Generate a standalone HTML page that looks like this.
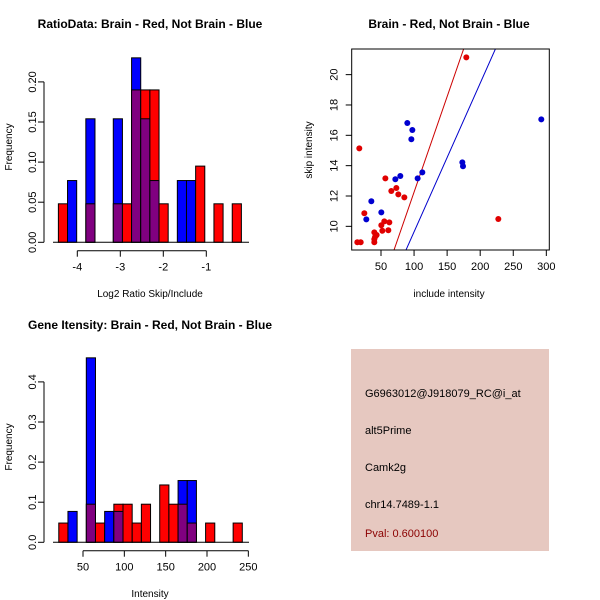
<!DOCTYPE html>
<html><head><meta charset="utf-8"><style>
body{margin:0;background:#fff;}
svg{display:block;font-family:"Liberation Sans",sans-serif;}
</style></head><body>
<svg id="c" width="600" height="600" xmlns="http://www.w3.org/2000/svg">
<rect x="351" y="349" width="198" height="202" fill="#e6c8c0"/>
<text x="365" y="397" font-size="11">G6963012@J918079_RC@i_at</text>
<text x="365" y="434" font-size="11">alt5Prime</text>
<text x="365" y="471" font-size="11">Camk2g</text>
<text x="365" y="508" font-size="11">chr14.7489-1.1</text>
<text x="365" y="537" font-size="11" fill="#8b0000">Pval: 0.600100</text>
</svg>
<script>
// Ratio histogram (20 bins)
const ratioRed  = [0.048,0,0,0.048,0,0,0.048,0.048,0.19,0.19,0.19,0.048,0,0,0,0.095,0,0.048,0,0.048];
const ratioBlue = [0,0.077,0,0.154,0,0,0.154,0,0.23,0.154,0.077,0,0,0.077,0.077,0,0,0,0,0];
const ratioXTicks = [-4,-3,-2,-1];
const ratioYTicks = [0,0.05,0.10,0.15,0.20];
// Intensity histogram (20 bins)
const intRed  = [0.048,0,0,0.095,0.048,0,0.095,0.095,0.048,0.095,0,0.143,0.095,0.095,0.048,0,0.048,0,0,0.048];
const intBlue = [0,0.077,0,0.46,0,0.077,0.077,0,0,0,0,0,0,0.154,0.154,0,0,0,0,0];
const intXTicks = [50,100,150,200,250];
const intYTicks = [0,0.1,0.2,0.3,0.4];
// Scatter
const redX = [17.2,14.2,19.3,24.8,39.9,43.4,39.9,39.9,50.5,52,55,62.6,61.1,56.6,65.6,73.2,76.2,85.3,179,227.4,41];
const redY = [15.14,8.95,8.95,10.86,9.6,9.43,9.16,8.95,10.07,9.71,10.33,10.26,9.74,13.16,12.33,12.53,12.11,11.91,21.14,10.48,9.3];
const blueX = [27.8,35.4,50.5,71.7,79.2,89.8,97.4,95.9,105.4,112.5,173,174,292.4];
const blueY = [10.46,11.65,10.92,13.1,13.32,16.81,16.35,15.74,13.16,13.56,14.22,13.96,17.05];
const redLine = [-0.335,0.1259];
const blueLine = [-0.164,0.098];
const scXTicks = [50,100,150,200,250,300];
const scYTicks = [10,12,14,16,18,20];

const svg=document.getElementById('c');
const NS='http://www.w3.org/2000/svg';
function mk(t,a,p){const e=document.createElementNS(NS,t);for(const k in a)e.setAttribute(k,a[k]);(p||svg).appendChild(e);return e;}
function txt(x,y,s,o,p){const e=mk('text',Object.assign({x:x,y:y,'font-size':11,'text-anchor':'middle'},o||{}),p);e.textContent=s;return e;}

function hist(o){
  const g=mk('g',{});
  
  
  const X=v=>o.x0+(v-o.v0)*o.sx, Y=v=>o.base-v*o.sy;
  const n=o.red.length;
  for(let i=0;i<n;i++){
    const xl=X(o.start+i*o.bw), xr=X(o.start+(i+1)*o.bw);
    const r=o.red[i], b=o.blue[i], m=Math.min(r,b);
    const draw=(v,c,nm)=>{if(v<=0)return;const e=mk('rect',{x:xl,y:Y(v),width:xr-xl,height:Y(0)-Y(v),fill:c,stroke:'#000','stroke-width':1},g);
      
      };
    if(r>=b){draw(r,'#ff0000','bar-red');}else{draw(b,'#0000ff','bar-blue');}
    if(m>0){draw(m,'#800080','bar-overlap');}
  }
  const ya=mk('g',{});
  
  
  const yt=o.yt;
  mk('line',{x1:o.ax,x2:o.ax,y1:Y(yt[0]),y2:Y(yt[yt.length-1]),stroke:'#000'},ya);
  yt.forEach(v=>{mk('line',{x1:o.ax-6,x2:o.ax,y1:Y(v),y2:Y(v),stroke:'#000'},ya);
    txt(o.ax-8,Y(v),o.yfmt(v),{transform:`rotate(-90 ${o.ax-8} ${Y(v)})`},ya);});
  mk('line',{x1:o.ax0,x2:o.ax1,y1:o.base,y2:o.base,stroke:'#000'},g);
  const xa=mk('g',{});
  
  
  const xt=o.xt;
  mk('line',{x1:X(xt[0]),x2:X(xt[xt.length-1]),y1:o.axy,y2:o.axy,stroke:'#000'},xa);
  xt.forEach(v=>{mk('line',{x1:X(v),x2:X(v),y1:o.axy,y2:o.axy+6,stroke:'#000'},xa);txt(X(v),o.axy+20,String(v),{},xa);});
  const t1=txt(o.title[1],o.title[2],o.title[0],{'font-weight':'bold','font-size':12});
  
  
  const t2=txt(o.xl[1],o.xl[2],o.xl[0],{'font-size':10});
  
  
  const t3=txt(12,o.yly,'Frequency',{'font-size':10,transform:`rotate(-90 12 ${o.yly})`});
  
  
}

hist({name:'ratio-histogram',red:ratioRed,blue:ratioBlue,start:-4.44,bw:0.2128,v0:-4,x0:77.3,sx:43,base:242.3,sy:802,
  yt:ratioYTicks,yfmt:v=>v.toFixed(2),ax:44,ax0:53,ax1:249,axy:250.7,xt:ratioXTicks,
  title:['RatioData: Brain - Red, Not Brain - Blue',150,28],xl:['Log2 Ratio Skip/Include',150,297],yly:147});
hist({name:'intensity-histogram',red:intRed,blue:intBlue,start:20.7,bw:11.1,v0:50,x0:83,sx:0.8267,base:542.3,sy:401,
  yt:intYTicks,yfmt:v=>v.toFixed(1),ax:44,ax0:53,ax1:249,axy:550.7,xt:intXTicks,
  title:['Gene Itensity: Brain - Red, Not Brain - Blue',150,329],xl:['Intensity',150,597],yly:447});

(function(){
  const L=351.7,R=549.3,T=49,B=250;
  const xmin=5.7,xmax=304.5,ymin=8.44,ymax=21.69;
  const X=v=>L+(v-xmin)/(xmax-xmin)*(R-L), Y=v=>B-(v-ymin)/(ymax-ymin)*(B-T);
  const g=mk('g',{});
  
  
  const cp=mk('clipPath',{id:'sc'},g);mk('rect',{x:L,y:T,width:R-L,height:B-T},cp);
  [[redLine,'#cc0000','fit-line-red'],[blueLine,'#0000cc','fit-line-blue']].forEach(([ln,c,nm])=>{
    const e=mk('line',{x1:X(xmin),y1:Y(ln[0]+ln[1]*xmin),x2:X(xmax),y2:Y(ln[0]+ln[1]*xmax),stroke:c,'stroke-width':1,'clip-path':'url(#sc)'},g);
    
    
  });
  redX.forEach((v,i)=>{const e=mk('circle',{cx:X(v),cy:Y(redY[i]),r:3,fill:'#e00000'},g);
    
    });
  blueX.forEach((v,i)=>{const e=mk('circle',{cx:X(v),cy:Y(blueY[i]),r:3,fill:'#0000d0'},g);
    
    });
  mk('rect',{x:L,y:T,width:R-L,height:B-T,fill:'none',stroke:'#000'},g);
  scXTicks.forEach(v=>{mk('line',{x1:X(v),x2:X(v),y1:B,y2:B+6,stroke:'#000'},g);txt(X(v),B+20,String(v),{},g);});
  scYTicks.forEach(v=>{mk('line',{x1:L-6,x2:L,y1:Y(v),y2:Y(v),stroke:'#000'},g);txt(L-14,Y(v),String(v),{transform:`rotate(-90 ${L-14} ${Y(v)})`},g);});
  const t=txt(449,28,'Brain - Red, Not Brain - Blue',{'font-weight':'bold','font-size':12});
  
  
  const xl=txt(449,297,'include intensity',{'font-size':10});
  
  
  const yl=txt(312,150,'skip intensity',{'font-size':10,transform:'rotate(-90 312 150)'});
  
  
})();
</script>
</body></html>
